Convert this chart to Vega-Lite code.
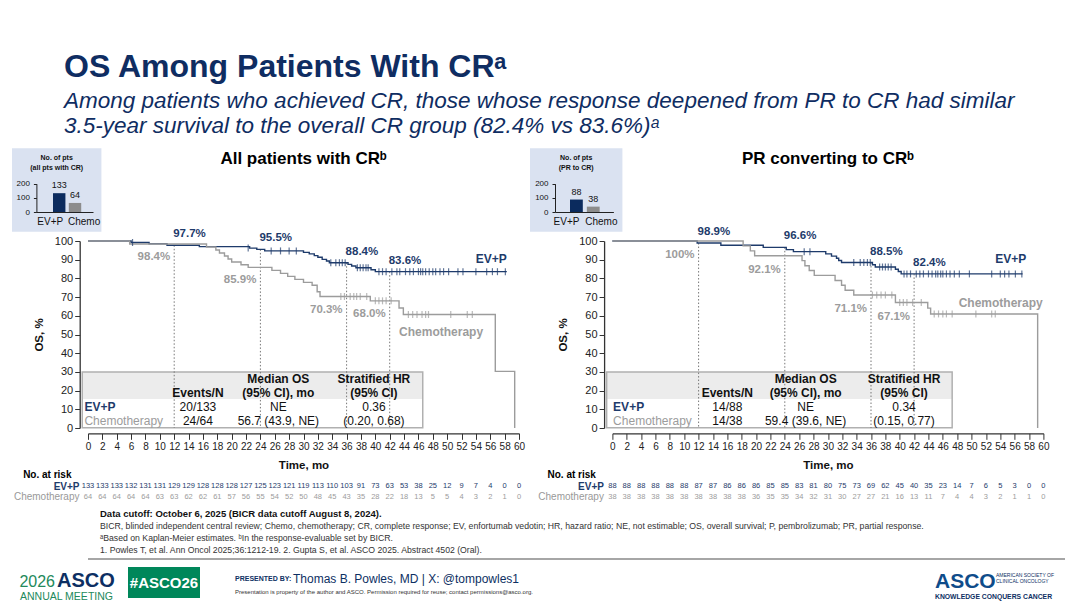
{
  "$schema": "https://vega.github.io/schema/vega-lite/v6.json",
  "background": "#ffffff",
  "padding": {"left": 12, "top": 50, "right": 10, "bottom": 0},
  "config": {
    "font": "Liberation Sans",
    "view": {"stroke": null},
    "axis": {"grid": false, "labelFont": "Liberation Sans", "titleFont": "Liberation Sans"},
    "text": {"font": "Liberation Sans"},
    "title": {"font": "Liberation Sans", "subtitleFont": "Liberation Sans"}
  },
  "title": {
    "text": "OS Among Patients With CRᵃ",
    "subtitle": ["Among patients who achieved CR, those whose response deepened from PR to CR had similar", "3.5-year survival to the overall CR group (82.4% vs 83.6%)ᵃ"],
    "anchor": "start", "frame": "bounds", "dx": 52,
    "fontSize": 32, "fontWeight": "bold", "color": "#0f2d62",
    "subtitleFontSize": 22.5, "subtitleFontStyle": "italic", "subtitleColor": "#0f2d62",
    "subtitlePadding": 6, "subtitleLineHeight": 25, "offset": 10
  },
  "datasets": {
    "km_all": [
      {"arm": "EV+P", "t": 0, "s": 100}, {"arm": "EV+P", "t": 6, "s": 99.2}, {"arm": "EV+P", "t": 8.5, "s": 98.5}, {"arm": "EV+P", "t": 11, "s": 97.7},
      {"arm": "EV+P", "t": 15.5, "s": 97}, {"arm": "EV+P", "t": 22.5, "s": 96.2}, {"arm": "EV+P", "t": 23.5, "s": 95.5}, {"arm": "EV+P", "t": 24.6, "s": 94.7},
      {"arm": "EV+P", "t": 30, "s": 93.9}, {"arm": "EV+P", "t": 30.8, "s": 93.1}, {"arm": "EV+P", "t": 31.5, "s": 92.2}, {"arm": "EV+P", "t": 32, "s": 91.3},
      {"arm": "EV+P", "t": 32.6, "s": 90.2}, {"arm": "EV+P", "t": 33.2, "s": 89.3}, {"arm": "EV+P", "t": 33.6, "s": 88.4}, {"arm": "EV+P", "t": 36.2, "s": 87.5},
      {"arm": "EV+P", "t": 36.7, "s": 86.6}, {"arm": "EV+P", "t": 37.3, "s": 85.7}, {"arm": "EV+P", "t": 39.4, "s": 84.6}, {"arm": "EV+P", "t": 40, "s": 83.6},
      {"arm": "EV+P", "t": 58.3, "s": 83.6},
      {"arm": "Chemotherapy", "t": 0, "s": 100}, {"arm": "Chemotherapy", "t": 5.8, "s": 98.4}, {"arm": "Chemotherapy", "t": 16.5, "s": 96.8}, {"arm": "Chemotherapy", "t": 17.8, "s": 95.2},
      {"arm": "Chemotherapy", "t": 18.3, "s": 93.6}, {"arm": "Chemotherapy", "t": 19, "s": 92}, {"arm": "Chemotherapy", "t": 19.5, "s": 90.4}, {"arm": "Chemotherapy", "t": 20, "s": 88.8},
      {"arm": "Chemotherapy", "t": 21.3, "s": 87.3}, {"arm": "Chemotherapy", "t": 22.3, "s": 85.9}, {"arm": "Chemotherapy", "t": 25.6, "s": 84.3}, {"arm": "Chemotherapy", "t": 26.8, "s": 82.7},
      {"arm": "Chemotherapy", "t": 27.8, "s": 81.1}, {"arm": "Chemotherapy", "t": 28.8, "s": 79.5}, {"arm": "Chemotherapy", "t": 30, "s": 77.9}, {"arm": "Chemotherapy", "t": 31.2, "s": 76.3},
      {"arm": "Chemotherapy", "t": 31.9, "s": 72.9}, {"arm": "Chemotherapy", "t": 32.3, "s": 70.3}, {"arm": "Chemotherapy", "t": 39.3, "s": 68}, {"arm": "Chemotherapy", "t": 43.3, "s": 64.2},
      {"arm": "Chemotherapy", "t": 43.9, "s": 60.7}, {"arm": "Chemotherapy", "t": 56.7, "s": 30.3}, {"arm": "Chemotherapy", "t": 59.4, "s": 0}
    ],
    "km_pr": [
      {"arm": "EV+P", "t": 0, "s": 100}, {"arm": "EV+P", "t": 11.8, "s": 98.9}, {"arm": "EV+P", "t": 15.1, "s": 97.7}, {"arm": "EV+P", "t": 21, "s": 96.6},
      {"arm": "EV+P", "t": 24.2, "s": 95.4}, {"arm": "EV+P", "t": 25.2, "s": 94.3}, {"arm": "EV+P", "t": 29.7, "s": 93.1}, {"arm": "EV+P", "t": 30.5, "s": 91.9},
      {"arm": "EV+P", "t": 31.2, "s": 90.8}, {"arm": "EV+P", "t": 31.5, "s": 89.6}, {"arm": "EV+P", "t": 31.9, "s": 88.5}, {"arm": "EV+P", "t": 36.2, "s": 87.3},
      {"arm": "EV+P", "t": 36.6, "s": 86.1}, {"arm": "EV+P", "t": 39.4, "s": 84.9}, {"arm": "EV+P", "t": 39.8, "s": 83.7}, {"arm": "EV+P", "t": 40.2, "s": 82.4},
      {"arm": "EV+P", "t": 57.1, "s": 82.4},
      {"arm": "Chemotherapy", "t": 0, "s": 100}, {"arm": "Chemotherapy", "t": 18.2, "s": 97.4}, {"arm": "Chemotherapy", "t": 19.2, "s": 94.7}, {"arm": "Chemotherapy", "t": 19.8, "s": 92.1},
      {"arm": "Chemotherapy", "t": 26.4, "s": 89.5}, {"arm": "Chemotherapy", "t": 26.8, "s": 86.8}, {"arm": "Chemotherapy", "t": 27.4, "s": 84.2}, {"arm": "Chemotherapy", "t": 28.1, "s": 81.6},
      {"arm": "Chemotherapy", "t": 31, "s": 78.9}, {"arm": "Chemotherapy", "t": 31.9, "s": 76.3}, {"arm": "Chemotherapy", "t": 32.4, "s": 73.7}, {"arm": "Chemotherapy", "t": 33.6, "s": 71.1},
      {"arm": "Chemotherapy", "t": 39.4, "s": 67.1}, {"arm": "Chemotherapy", "t": 43.9, "s": 64.1}, {"arm": "Chemotherapy", "t": 44.3, "s": 61}, {"arm": "Chemotherapy", "t": 59.2, "s": 0}
    ],
    "cens_all": [
      {"arm": "EV+P", "t": 6.2, "s": 99.2}, {"arm": "EV+P", "t": 22.3, "s": 96.2}, {"arm": "EV+P", "t": 25.5, "s": 94.7}, {"arm": "EV+P", "t": 26.8, "s": 94.7}, {"arm": "EV+P", "t": 28, "s": 94.7}, {"arm": "EV+P", "t": 29, "s": 94.7},
      {"arm": "EV+P", "t": 33.8, "s": 88.4}, {"arm": "EV+P", "t": 34.5, "s": 88.4}, {"arm": "EV+P", "t": 35, "s": 88.4}, {"arm": "EV+P", "t": 35.4, "s": 88.4}, {"arm": "EV+P", "t": 35.8, "s": 88.4},
      {"arm": "EV+P", "t": 37.5, "s": 85.7}, {"arm": "EV+P", "t": 37.9, "s": 85.7}, {"arm": "EV+P", "t": 38.3, "s": 85.7}, {"arm": "EV+P", "t": 38.7, "s": 85.7}, {"arm": "EV+P", "t": 39, "s": 85.7},
      {"arm": "EV+P", "t": 40.5, "s": 83.6}, {"arm": "EV+P", "t": 41, "s": 83.6}, {"arm": "EV+P", "t": 41.5, "s": 83.6}, {"arm": "EV+P", "t": 42.3, "s": 83.6}, {"arm": "EV+P", "t": 43, "s": 83.6},
      {"arm": "EV+P", "t": 43.4, "s": 83.6}, {"arm": "EV+P", "t": 44.2, "s": 83.6}, {"arm": "EV+P", "t": 44.8, "s": 83.6}, {"arm": "EV+P", "t": 45.3, "s": 83.6}, {"arm": "EV+P", "t": 46, "s": 83.6},
      {"arm": "EV+P", "t": 46.3, "s": 83.6}, {"arm": "EV+P", "t": 46.6, "s": 83.6}, {"arm": "EV+P", "t": 47, "s": 83.6}, {"arm": "EV+P", "t": 47.5, "s": 83.6}, {"arm": "EV+P", "t": 48, "s": 83.6},
      {"arm": "EV+P", "t": 48.4, "s": 83.6}, {"arm": "EV+P", "t": 49, "s": 83.6}, {"arm": "EV+P", "t": 49.5, "s": 83.6}, {"arm": "EV+P", "t": 50.2, "s": 83.6}, {"arm": "EV+P", "t": 51.5, "s": 83.6},
      {"arm": "EV+P", "t": 52.2, "s": 83.6}, {"arm": "EV+P", "t": 54, "s": 83.6}, {"arm": "EV+P", "t": 55.5, "s": 83.6}, {"arm": "EV+P", "t": 56.3, "s": 83.6}, {"arm": "EV+P", "t": 57, "s": 83.6},
      {"arm": "EV+P", "t": 58.1, "s": 83.6},
      {"arm": "Chemotherapy", "t": 35.2, "s": 70.3}, {"arm": "Chemotherapy", "t": 35.7, "s": 70.3}, {"arm": "Chemotherapy", "t": 36.5, "s": 70.3}, {"arm": "Chemotherapy", "t": 37, "s": 70.3},
      {"arm": "Chemotherapy", "t": 37.4, "s": 70.3}, {"arm": "Chemotherapy", "t": 37.9, "s": 70.3}, {"arm": "Chemotherapy", "t": 38.8, "s": 70.3},
      {"arm": "Chemotherapy", "t": 40, "s": 68}, {"arm": "Chemotherapy", "t": 40.5, "s": 68}, {"arm": "Chemotherapy", "t": 41, "s": 68}, {"arm": "Chemotherapy", "t": 41.5, "s": 68}, {"arm": "Chemotherapy", "t": 42.2, "s": 68},
      {"arm": "Chemotherapy", "t": 44.6, "s": 60.7}, {"arm": "Chemotherapy", "t": 45.2, "s": 60.7}, {"arm": "Chemotherapy", "t": 45.8, "s": 60.7}, {"arm": "Chemotherapy", "t": 46.5, "s": 60.7},
      {"arm": "Chemotherapy", "t": 47, "s": 60.7}, {"arm": "Chemotherapy", "t": 47.4, "s": 60.7}, {"arm": "Chemotherapy", "t": 50.5, "s": 60.7}, {"arm": "Chemotherapy", "t": 52.8, "s": 60.7}, {"arm": "Chemotherapy", "t": 53.5, "s": 60.7}
    ],
    "cens_pr": [
      {"arm": "EV+P", "t": 26.7, "s": 94.3}, {"arm": "EV+P", "t": 27.5, "s": 94.3},
      {"arm": "EV+P", "t": 33.6, "s": 88.5}, {"arm": "EV+P", "t": 34.5, "s": 88.5}, {"arm": "EV+P", "t": 35, "s": 88.5}, {"arm": "EV+P", "t": 35.5, "s": 88.5}, {"arm": "EV+P", "t": 35.9, "s": 88.5},
      {"arm": "EV+P", "t": 37.2, "s": 86.1}, {"arm": "EV+P", "t": 37.6, "s": 86.1}, {"arm": "EV+P", "t": 38, "s": 86.1}, {"arm": "EV+P", "t": 38.4, "s": 86.1}, {"arm": "EV+P", "t": 38.8, "s": 86.1},
      {"arm": "EV+P", "t": 40.6, "s": 82.4}, {"arm": "EV+P", "t": 41, "s": 82.4}, {"arm": "EV+P", "t": 41.5, "s": 82.4}, {"arm": "EV+P", "t": 42.3, "s": 82.4}, {"arm": "EV+P", "t": 42.8, "s": 82.4},
      {"arm": "EV+P", "t": 43.3, "s": 82.4}, {"arm": "EV+P", "t": 44, "s": 82.4}, {"arm": "EV+P", "t": 44.5, "s": 82.4}, {"arm": "EV+P", "t": 45, "s": 82.4}, {"arm": "EV+P", "t": 45.3, "s": 82.4},
      {"arm": "EV+P", "t": 45.7, "s": 82.4}, {"arm": "EV+P", "t": 46, "s": 82.4}, {"arm": "EV+P", "t": 46.5, "s": 82.4}, {"arm": "EV+P", "t": 47, "s": 82.4}, {"arm": "EV+P", "t": 47.6, "s": 82.4},
      {"arm": "EV+P", "t": 48.3, "s": 82.4}, {"arm": "EV+P", "t": 49.7, "s": 82.4}, {"arm": "EV+P", "t": 52.8, "s": 82.4}, {"arm": "EV+P", "t": 54, "s": 82.4}, {"arm": "EV+P", "t": 54.6, "s": 82.4},
      {"arm": "EV+P", "t": 55.2, "s": 82.4}, {"arm": "EV+P", "t": 56.1, "s": 82.4}, {"arm": "EV+P", "t": 57, "s": 82.4},
      {"arm": "Chemotherapy", "t": 36.2, "s": 71.1}, {"arm": "Chemotherapy", "t": 36.8, "s": 71.1}, {"arm": "Chemotherapy", "t": 37.4, "s": 71.1}, {"arm": "Chemotherapy", "t": 38, "s": 71.1}, {"arm": "Chemotherapy", "t": 38.9, "s": 71.1},
      {"arm": "Chemotherapy", "t": 40, "s": 67.1}, {"arm": "Chemotherapy", "t": 40.5, "s": 67.1}, {"arm": "Chemotherapy", "t": 41, "s": 67.1}, {"arm": "Chemotherapy", "t": 41.8, "s": 67.1}, {"arm": "Chemotherapy", "t": 43, "s": 67.1},
      {"arm": "Chemotherapy", "t": 44.8, "s": 61}, {"arm": "Chemotherapy", "t": 45.4, "s": 61}, {"arm": "Chemotherapy", "t": 46, "s": 61}, {"arm": "Chemotherapy", "t": 46.5, "s": 61},
      {"arm": "Chemotherapy", "t": 47.3, "s": 61}, {"arm": "Chemotherapy", "t": 50.6, "s": 61}, {"arm": "Chemotherapy", "t": 52.8, "s": 61}, {"arm": "Chemotherapy", "t": 53.3, "s": 61}
    ],
    "lab_all": [
      {"arm": "EV+P", "t": 12, "s": 97.7, "lab": "97.7%"}, {"arm": "EV+P", "t": 24, "s": 95.5, "lab": "95.5%"}, {"arm": "EV+P", "t": 36, "s": 88.4, "lab": "88.4%"}, {"arm": "EV+P", "t": 42, "s": 83.6, "lab": "83.6%"},
      {"arm": "Chemotherapy", "t": 12, "s": 98.4, "lab": "98.4%"}, {"arm": "Chemotherapy", "t": 24, "s": 85.9, "lab": "85.9%"}, {"arm": "Chemotherapy", "t": 36, "s": 70.3, "lab": "70.3%"}, {"arm": "Chemotherapy", "t": 42, "s": 68.0, "lab": "68.0%"}
    ],
    "lab_pr": [
      {"arm": "EV+P", "t": 12, "s": 98.9, "lab": "98.9%"}, {"arm": "EV+P", "t": 24, "s": 96.6, "lab": "96.6%"}, {"arm": "EV+P", "t": 36, "s": 88.5, "lab": "88.5%"}, {"arm": "EV+P", "t": 42, "s": 82.4, "lab": "82.4%"},
      {"arm": "Chemotherapy", "t": 12, "s": 100, "lab": "100%"}, {"arm": "Chemotherapy", "t": 24, "s": 92.1, "lab": "92.1%"}, {"arm": "Chemotherapy", "t": 36, "s": 71.1, "lab": "71.1%"}, {"arm": "Chemotherapy", "t": 42, "s": 67.1, "lab": "67.1%"}
    ],
    "tab_all": [
      {"row": "h1", "label": "", "ev": "", "med": "Median OS", "hr": "Stratified HR"},
      {"row": "h2", "label": "", "ev": "Events/N", "med": "(95% CI), mo", "hr": "(95% CI)"},
      {"row": "EV+P", "label": "EV+P", "ev": "20/133", "med": "NE", "hr": "0.36"},
      {"row": "Chemotherapy", "label": "Chemotherapy", "ev": "24/64", "med": "56.7 (43.9, NE)", "hr": "(0.20, 0.68)"}
    ],
    "tab_pr": [
      {"row": "h1", "label": "", "ev": "", "med": "Median OS", "hr": "Stratified HR"},
      {"row": "h2", "label": "", "ev": "Events/N", "med": "(95% CI), mo", "hr": "(95% CI)"},
      {"row": "EV+P", "label": "EV+P", "ev": "14/88", "med": "NE", "hr": "0.34"},
      {"row": "Chemotherapy", "label": "Chemotherapy", "ev": "14/38", "med": "59.4 (39.6, NE)", "hr": "(0.15, 0.77)"}
    ],
    "risk_all": [
      {"arm": "EV+P", "t": 0, "n": 133}, {"arm": "EV+P", "t": 2, "n": 133}, {"arm": "EV+P", "t": 4, "n": 133}, {"arm": "EV+P", "t": 6, "n": 132}, {"arm": "EV+P", "t": 8, "n": 131}, {"arm": "EV+P", "t": 10, "n": 131},
      {"arm": "EV+P", "t": 12, "n": 129}, {"arm": "EV+P", "t": 14, "n": 129}, {"arm": "EV+P", "t": 16, "n": 128}, {"arm": "EV+P", "t": 18, "n": 128}, {"arm": "EV+P", "t": 20, "n": 128}, {"arm": "EV+P", "t": 22, "n": 127},
      {"arm": "EV+P", "t": 24, "n": 125}, {"arm": "EV+P", "t": 26, "n": 123}, {"arm": "EV+P", "t": 28, "n": 121}, {"arm": "EV+P", "t": 30, "n": 119}, {"arm": "EV+P", "t": 32, "n": 113}, {"arm": "EV+P", "t": 34, "n": 110},
      {"arm": "EV+P", "t": 36, "n": 103}, {"arm": "EV+P", "t": 38, "n": 91}, {"arm": "EV+P", "t": 40, "n": 73}, {"arm": "EV+P", "t": 42, "n": 63}, {"arm": "EV+P", "t": 44, "n": 53}, {"arm": "EV+P", "t": 46, "n": 38},
      {"arm": "EV+P", "t": 48, "n": 25}, {"arm": "EV+P", "t": 50, "n": 12}, {"arm": "EV+P", "t": 52, "n": 9}, {"arm": "EV+P", "t": 54, "n": 7}, {"arm": "EV+P", "t": 56, "n": 4}, {"arm": "EV+P", "t": 58, "n": 0}, {"arm": "EV+P", "t": 60, "n": 0},
      {"arm": "Chemotherapy", "t": 0, "n": 64}, {"arm": "Chemotherapy", "t": 2, "n": 64}, {"arm": "Chemotherapy", "t": 4, "n": 64}, {"arm": "Chemotherapy", "t": 6, "n": 64}, {"arm": "Chemotherapy", "t": 8, "n": 64}, {"arm": "Chemotherapy", "t": 10, "n": 63},
      {"arm": "Chemotherapy", "t": 12, "n": 63}, {"arm": "Chemotherapy", "t": 14, "n": 62}, {"arm": "Chemotherapy", "t": 16, "n": 62}, {"arm": "Chemotherapy", "t": 18, "n": 61}, {"arm": "Chemotherapy", "t": 20, "n": 57}, {"arm": "Chemotherapy", "t": 22, "n": 56},
      {"arm": "Chemotherapy", "t": 24, "n": 55}, {"arm": "Chemotherapy", "t": 26, "n": 54}, {"arm": "Chemotherapy", "t": 28, "n": 52}, {"arm": "Chemotherapy", "t": 30, "n": 50}, {"arm": "Chemotherapy", "t": 32, "n": 48}, {"arm": "Chemotherapy", "t": 34, "n": 45},
      {"arm": "Chemotherapy", "t": 36, "n": 43}, {"arm": "Chemotherapy", "t": 38, "n": 35}, {"arm": "Chemotherapy", "t": 40, "n": 28}, {"arm": "Chemotherapy", "t": 42, "n": 22}, {"arm": "Chemotherapy", "t": 44, "n": 18}, {"arm": "Chemotherapy", "t": 46, "n": 13},
      {"arm": "Chemotherapy", "t": 48, "n": 5}, {"arm": "Chemotherapy", "t": 50, "n": 5}, {"arm": "Chemotherapy", "t": 52, "n": 4}, {"arm": "Chemotherapy", "t": 54, "n": 3}, {"arm": "Chemotherapy", "t": 56, "n": 2}, {"arm": "Chemotherapy", "t": 58, "n": 1}, {"arm": "Chemotherapy", "t": 60, "n": 0}
    ],
    "risk_pr": [
      {"arm": "EV+P", "t": 0, "n": 88}, {"arm": "EV+P", "t": 2, "n": 88}, {"arm": "EV+P", "t": 4, "n": 88}, {"arm": "EV+P", "t": 6, "n": 88}, {"arm": "EV+P", "t": 8, "n": 88}, {"arm": "EV+P", "t": 10, "n": 88},
      {"arm": "EV+P", "t": 12, "n": 87}, {"arm": "EV+P", "t": 14, "n": 87}, {"arm": "EV+P", "t": 16, "n": 86}, {"arm": "EV+P", "t": 18, "n": 86}, {"arm": "EV+P", "t": 20, "n": 86}, {"arm": "EV+P", "t": 22, "n": 85},
      {"arm": "EV+P", "t": 24, "n": 85}, {"arm": "EV+P", "t": 26, "n": 83}, {"arm": "EV+P", "t": 28, "n": 81}, {"arm": "EV+P", "t": 30, "n": 80}, {"arm": "EV+P", "t": 32, "n": 75}, {"arm": "EV+P", "t": 34, "n": 73},
      {"arm": "EV+P", "t": 36, "n": 69}, {"arm": "EV+P", "t": 38, "n": 62}, {"arm": "EV+P", "t": 40, "n": 45}, {"arm": "EV+P", "t": 42, "n": 40}, {"arm": "EV+P", "t": 44, "n": 35}, {"arm": "EV+P", "t": 46, "n": 23},
      {"arm": "EV+P", "t": 48, "n": 14}, {"arm": "EV+P", "t": 50, "n": 7}, {"arm": "EV+P", "t": 52, "n": 6}, {"arm": "EV+P", "t": 54, "n": 5}, {"arm": "EV+P", "t": 56, "n": 3}, {"arm": "EV+P", "t": 58, "n": 0}, {"arm": "EV+P", "t": 60, "n": 0},
      {"arm": "Chemotherapy", "t": 0, "n": 38}, {"arm": "Chemotherapy", "t": 2, "n": 38}, {"arm": "Chemotherapy", "t": 4, "n": 38}, {"arm": "Chemotherapy", "t": 6, "n": 38}, {"arm": "Chemotherapy", "t": 8, "n": 38}, {"arm": "Chemotherapy", "t": 10, "n": 38},
      {"arm": "Chemotherapy", "t": 12, "n": 38}, {"arm": "Chemotherapy", "t": 14, "n": 38}, {"arm": "Chemotherapy", "t": 16, "n": 38}, {"arm": "Chemotherapy", "t": 18, "n": 38}, {"arm": "Chemotherapy", "t": 20, "n": 36}, {"arm": "Chemotherapy", "t": 22, "n": 35},
      {"arm": "Chemotherapy", "t": 24, "n": 35}, {"arm": "Chemotherapy", "t": 26, "n": 34}, {"arm": "Chemotherapy", "t": 28, "n": 32}, {"arm": "Chemotherapy", "t": 30, "n": 31}, {"arm": "Chemotherapy", "t": 32, "n": 30}, {"arm": "Chemotherapy", "t": 34, "n": 27},
      {"arm": "Chemotherapy", "t": 36, "n": 27}, {"arm": "Chemotherapy", "t": 38, "n": 21}, {"arm": "Chemotherapy", "t": 40, "n": 16}, {"arm": "Chemotherapy", "t": 42, "n": 13}, {"arm": "Chemotherapy", "t": 44, "n": 11}, {"arm": "Chemotherapy", "t": 46, "n": 7},
      {"arm": "Chemotherapy", "t": 48, "n": 4}, {"arm": "Chemotherapy", "t": 50, "n": 4}, {"arm": "Chemotherapy", "t": 52, "n": 3}, {"arm": "Chemotherapy", "t": 54, "n": 2}, {"arm": "Chemotherapy", "t": 56, "n": 1}, {"arm": "Chemotherapy", "t": 58, "n": 1}, {"arm": "Chemotherapy", "t": 60, "n": 0}
    ]
  },
  "vconcat": [
    {
      "hconcat": [
        {
          "width": 431, "height": 187,
          "title": {"text": "All patients with CRᵇ", "fontSize": 17, "fontWeight": "bold", "color": "#000000", "anchor": "middle", "frame": "group", "offset": -20},
          "layer": [
            {
              "data": {"values": [{"title": "No. of pts\n(all pts with CR)"}]},
              "layer": [
                {"mark": {"type": "rect", "fill": "#dae2f1"},
                 "encoding": {
                   "x": {"datum": "box", "type": "nominal", "scale": {"domain": ["box"], "range": [-76, 13.4], "paddingInner": 0, "paddingOuter": 0}, "axis": null},
                   "y": {"datum": "box", "type": "nominal", "scale": {"domain": ["box"], "range": [-92.7, -9.3], "paddingInner": 0, "paddingOuter": 0}, "axis": null}}},
                {"mark": {"type": "text", "baseline": "top", "dy": 6, "fontSize": 7, "fontWeight": "bold", "lineBreak": "\n", "lineHeight": 10, "color": "#111111"},
                 "encoding": {
                   "x": {"datum": "box", "type": "nominal", "scale": {"domain": ["box"], "range": [-76, 13.4], "paddingInner": 0, "paddingOuter": 0}, "axis": null},
                   "y": {"datum": "box", "type": "nominal", "bandPosition": 0, "scale": {"domain": ["box"], "range": [-92.7, -9.3], "paddingInner": 0, "paddingOuter": 0}, "axis": null},
                   "text": {"field": "title"}}}
              ]
            },
            {
              "data": {"values": [{"arm": "EV+P", "n": 133}, {"arm": "Chemo", "n": 64}]},
              "layer": [
                {"mark": {"type": "bar"},
                 "encoding": {
                   "x": {"field": "arm", "type": "nominal", "sort": null,
                         "scale": {"domain": ["EV+P", "Chemo"], "range": [-51.6, 5], "paddingInner": 0.215, "paddingOuter": 0.9, "align": 0.585},
                         "axis": {"orient": "bottom", "offset": -216, "zindex": 2, "title": null, "ticks": false, "domainColor": "#222222", "labelFontSize": 10, "labelPadding": 4, "labelAngle": 0, "labelColor": "#111111",
                                  "labelAlign": {"condition": {"test": "datum.value == 'EV+P'", "value": "right"}, "value": "left"},
                                  "labelOffset": {"condition": {"test": "datum.value == 'EV+P'", "value": 4}, "value": -7}}},
                   "y": {"field": "n", "type": "quantitative", "scale": {"domain": [0, 200], "range": [-29, -57.3], "nice": false},
                         "axis": {"orient": "left", "offset": 51.6, "zindex": 2, "values": [0, 100, 200], "tickCount": 10, "title": null, "tickSize": 3, "labelFontSize": 8, "labelPadding": 4, "labelColor": "#111111", "domainColor": "#222222", "tickColor": "#222222"}},
                   "color": {"condition": {"test": "datum.arm == 'EV+P'", "value": "#0b2b5e"}, "value": "#8c8c8c"}}},
                {"mark": {"type": "text", "baseline": "bottom", "dy": -3, "fontSize": 9, "color": "#111111"},
                 "encoding": {
                   "x": {"field": "arm", "type": "nominal", "sort": null, "scale": {"domain": ["EV+P", "Chemo"], "range": [-51.6, 5], "paddingInner": 0.215, "paddingOuter": 0.9, "align": 0.585}},
                   "y": {"field": "n", "type": "quantitative", "scale": {"domain": [0, 200], "range": [-29, -57.3], "nice": false}},
                   "text": {"field": "n"}}}
              ]
            },
            {
              "layer": [
                {
                  "layer": [
                    {"data": {"values": [{}]},
                     "mark": {"type": "rect", "fill": "#ffffff"},
                     "encoding": {
                       "x": {"datum": -0.8, "type": "quantitative", "scale": {"domain": [0, 60], "nice": false, "zero": false},
                             "axis": {"orient": "bottom", "values": [0, 2, 4, 6, 8, 10, 12, 14, 16, 18, 20, 22, 24, 26, 28, 30, 32, 34, 36, 38, 40, 42, 44, 46, 48, 50, 52, 54, 56, 58, 60], "tickCount": 61, "offset": 5.3, "title": "Time, mo", "titleFontSize": 11.5, "titleFontWeight": "bold", "titleColor": "#111111", "titlePadding": 8, "labelFontSize": 10, "labelColor": "#222222", "labelPadding": 2, "labelFlush": false, "labelOverlap": false, "tickSize": 6, "tickColor": "#333333", "domainColor": "#333333", "domainWidth": 1.3}},
                       "x2": {"datum": 46.6},
                       "y": {"datum": 30, "type": "quantitative", "scale": {"domain": [0, 100], "nice": false, "zero": false},
                             "axis": {"orient": "left", "values": [0, 10, 20, 30, 40, 50, 60, 70, 80, 90, 100], "tickCount": 21, "offset": 8.3, "title": "OS, %", "titleFontSize": 11.5, "titleFontWeight": "bold", "titleColor": "#111111", "titlePadding": 10, "labelFontSize": 11, "labelColor": "#222222", "labelPadding": 2, "labelOverlap": false, "tickSize": 5, "tickColor": "#333333", "domainColor": "#333333", "domainWidth": 1.3}},
                       "y2": {"datum": 0.2}}},
                    {"data": {"values": [{}]},
                     "mark": {"type": "rect", "fill": "#ececec"},
                     "encoding": {
                       "x": {"datum": -0.8, "type": "quantitative", "scale": {"domain": [0, 60], "nice": false, "zero": false}},
                       "x2": {"datum": 46.6},
                       "y": {"datum": 30, "type": "quantitative", "scale": {"domain": [0, 100], "nice": false, "zero": false}},
                       "y2": {"datum": 15.5}}},
                    {"data": {"values": [{}]},
                     "mark": {"type": "rect", "fillOpacity": 0, "stroke": "#b0b0b0", "strokeWidth": 1.5},
                     "encoding": {
                       "x": {"datum": -0.8, "type": "quantitative", "scale": {"domain": [0, 60], "nice": false, "zero": false}},
                       "x2": {"datum": 46.6},
                       "y": {"datum": 30, "type": "quantitative", "scale": {"domain": [0, 100], "nice": false, "zero": false}},
                       "y2": {"datum": 0.2}}},
                    {"data": {"name": "lab_all"},
                     "transform": [{"filter": "datum.arm == 'EV+P'"}],
                     "mark": {"type": "rule", "color": "#777777", "strokeWidth": 1, "strokeDash": [1.5, 2]},
                     "encoding": {
                       "x": {"field": "t", "type": "quantitative", "scale": {"domain": [0, 60], "nice": false, "zero": false}},
                       "y": {"field": "s", "type": "quantitative", "scale": {"domain": [0, 100], "nice": false, "zero": false}},
                       "y2": {"datum": 0}}},
                    {"data": {"name": "km_all"},
                     "mark": {"type": "line", "interpolate": "step-after", "strokeWidth": 1.4},
                     "encoding": {
                       "x": {"field": "t", "type": "quantitative", "scale": {"domain": [0, 60], "nice": false, "zero": false}},
                       "y": {"field": "s", "type": "quantitative", "scale": {"domain": [0, 100], "nice": false, "zero": false}},
                       "color": {"field": "arm", "type": "nominal", "scale": {"domain": ["EV+P", "Chemotherapy"], "range": ["#1e3b6b", "#9c9c9c"]}, "legend": null}}},
                    {"data": {"name": "cens_all"},
                     "mark": {"type": "tick", "orient": "vertical", "size": 7, "thickness": 1.2},
                     "encoding": {
                       "x": {"field": "t", "type": "quantitative", "scale": {"domain": [0, 60], "nice": false, "zero": false}},
                       "y": {"field": "s", "type": "quantitative", "scale": {"domain": [0, 100], "nice": false, "zero": false}},
                       "color": {"field": "arm", "type": "nominal", "scale": {"domain": ["EV+P", "Chemotherapy"], "range": ["#1e3b6b", "#9c9c9c"]}, "legend": null}}},
                    {"data": {"name": "lab_all"},
                     "transform": [{"filter": "datum.arm == 'EV+P'"}],
                     "mark": {"type": "text", "align": "left", "baseline": "middle", "dx": -1, "dy": -11, "fontSize": 11.5, "fontWeight": "bold"},
                     "encoding": {
                       "x": {"field": "t", "type": "quantitative", "scale": {"domain": [0, 60], "nice": false, "zero": false}},
                       "y": {"field": "s", "type": "quantitative", "scale": {"domain": [0, 100], "nice": false, "zero": false}},
                       "text": {"field": "lab"},
                       "color": {"field": "arm", "type": "nominal", "scale": {"domain": ["EV+P", "Chemotherapy"], "range": ["#1e3b6b", "#9c9c9c"]}, "legend": null}}},
                    {"data": {"name": "lab_all"},
                     "transform": [{"filter": "datum.arm == 'Chemotherapy'"}],
                     "mark": {"type": "text", "align": "right", "baseline": "middle", "dx": -4, "dy": 13, "fontSize": 11.5, "fontWeight": "bold"},
                     "encoding": {
                       "x": {"field": "t", "type": "quantitative", "scale": {"domain": [0, 60], "nice": false, "zero": false}},
                       "y": {"field": "s", "type": "quantitative", "scale": {"domain": [0, 100], "nice": false, "zero": false}},
                       "text": {"field": "lab"},
                       "color": {"field": "arm", "type": "nominal", "scale": {"domain": ["EV+P", "Chemotherapy"], "range": ["#1e3b6b", "#9c9c9c"]}, "legend": null}}},
                    {"data": {"values": [{}]},
                     "mark": {"type": "text", "text": "EV+P", "align": "right", "baseline": "middle", "fontSize": 12, "fontWeight": "bold", "color": "#1e3b6b"},
                     "encoding": {
                       "x": {"datum": 58.3, "type": "quantitative", "scale": {"domain": [0, 60], "nice": false, "zero": false}},
                       "y": {"datum": 90.2, "type": "quantitative", "scale": {"domain": [0, 100], "nice": false, "zero": false}}}},
                    {"data": {"values": [{}]},
                     "mark": {"type": "text", "text": "Chemotherapy", "align": "left", "baseline": "middle", "fontSize": 12, "fontWeight": "bold", "color": "#9c9c9c"},
                     "encoding": {
                       "x": {"datum": 43.3, "type": "quantitative", "scale": {"domain": [0, 60], "nice": false, "zero": false}},
                       "y": {"datum": 51.4, "type": "quantitative", "scale": {"domain": [0, 100], "nice": false, "zero": false}}}}
                  ]
                },
                {
                  "data": {"name": "tab_all"},
                  "encoding": {
                    "y": {"field": "row", "type": "nominal", "scale": {"domain": ["h1", "h2", "EV+P", "Chemotherapy"], "range": [131, 187], "paddingInner": 0, "paddingOuter": 0}, "axis": null}
                  },
                  "layer": [
                    {"mark": {"type": "text", "align": "left", "baseline": "middle", "fontSize": 12, "fontWeight": {"expr": "datum.row == 'EV+P' ? 'bold' : 'normal'"}},
                     "encoding": {
                       "x": {"datum": -0.5, "type": "quantitative", "scale": {"domain": [0, 60], "nice": false, "zero": false}},
                       "text": {"field": "label"},
                       "color": {"field": "row", "type": "nominal", "scale": {"domain": ["EV+P", "Chemotherapy"], "range": ["#1e3b6b", "#9c9c9c"]}, "legend": null}}},
                    {"mark": {"type": "text", "align": "center", "baseline": "middle", "fontSize": 12, "color": "#111111", "fontWeight": {"expr": "datum.row == 'h1' || datum.row == 'h2' ? 'bold' : 'normal'"}},
                     "encoding": {
                       "x": {"datum": 15.3, "type": "quantitative", "scale": {"domain": [0, 60], "nice": false, "zero": false}},
                       "text": {"field": "ev"}}},
                    {"mark": {"type": "text", "align": "center", "baseline": "middle", "fontSize": 12, "color": "#111111", "fontWeight": {"expr": "datum.row == 'h1' || datum.row == 'h2' ? 'bold' : 'normal'"}},
                     "encoding": {
                       "x": {"datum": 26.5, "type": "quantitative", "scale": {"domain": [0, 60], "nice": false, "zero": false}},
                       "text": {"field": "med"}}},
                    {"mark": {"type": "text", "align": "center", "baseline": "middle", "fontSize": 12, "color": "#111111", "fontWeight": {"expr": "datum.row == 'h1' || datum.row == 'h2' ? 'bold' : 'normal'"}},
                     "encoding": {
                       "x": {"datum": 39.8, "type": "quantitative", "scale": {"domain": [0, 60], "nice": false, "zero": false}},
                       "text": {"field": "hr"}}}
                  ]
                },
                {
                  "data": {"name": "risk_all"},
                  "mark": {"type": "text", "baseline": "middle", "fontSize": 7.5},
                  "encoding": {
                    "x": {"field": "t", "type": "quantitative", "scale": {"domain": [0, 60], "nice": false, "zero": false}},
                    "y": {"field": "arm", "type": "nominal", "scale": {"domain": ["No. at risk", "EV+P", "Chemotherapy"], "range": [229.25, 260.75], "paddingInner": 0, "paddingOuter": 0},
                          "axis": {"orient": "left", "offset": 0, "title": null, "domain": false, "ticks": false, "labelFontSize": 10,
                                   "labelPadding": {"condition": {"test": "datum.value == 'No. at risk'", "value": 17}, "value": 9},
                                   "labelOffset": {"condition": {"test": "datum.value == 'No. at risk'", "value": -1.5}, "value": 0},
                                   "labelFontWeight": {"condition": {"test": "datum.value == 'Chemotherapy'", "value": "normal"}, "value": "bold"},
                                   "labelColor": {"condition": [{"test": "datum.value == 'EV+P'", "value": "#1e3b6b"}, {"test": "datum.value == 'Chemotherapy'", "value": "#999999"}], "value": "#000000"}}},
                    "text": {"field": "n"},
                    "color": {"field": "arm", "type": "nominal", "scale": {"domain": ["EV+P", "Chemotherapy"], "range": ["#1e3b6b", "#9c9c9c"]}, "legend": null}}
                }
              ],
              "resolve": {"scale": {"y": "independent"}, "axis": {"y": "independent"}}
            }
          ],
          "resolve": {"scale": {"x": "independent", "y": "independent"}, "axis": {"x": "independent", "y": "independent"}}
        },
        {
          "width": 431, "height": 187,
          "title": {"text": "PR converting to CRᵇ", "fontSize": 17, "fontWeight": "bold", "color": "#000000", "anchor": "middle", "frame": "group", "offset": -20},
          "layer": [
            {
              "data": {"values": [{"title": "No. of pts\n(PR to CR)"}]},
              "layer": [
                {"mark": {"type": "rect", "fill": "#dae2f1"},
                 "encoding": {
                   "x": {"datum": "box", "type": "nominal", "scale": {"domain": ["box"], "range": [-82.4, 10], "paddingInner": 0, "paddingOuter": 0}, "axis": null},
                   "y": {"datum": "box", "type": "nominal", "scale": {"domain": ["box"], "range": [-92.7, -9.3], "paddingInner": 0, "paddingOuter": 0}, "axis": null}}},
                {"mark": {"type": "text", "baseline": "top", "dy": 6, "fontSize": 7, "fontWeight": "bold", "lineBreak": "\n", "lineHeight": 10, "color": "#111111"},
                 "encoding": {
                   "x": {"datum": "box", "type": "nominal", "scale": {"domain": ["box"], "range": [-82.4, 10], "paddingInner": 0, "paddingOuter": 0}, "axis": null},
                   "y": {"datum": "box", "type": "nominal", "bandPosition": 0, "scale": {"domain": ["box"], "range": [-92.7, -9.3], "paddingInner": 0, "paddingOuter": 0}, "axis": null},
                   "text": {"field": "title"}}}
              ]
            },
            {
              "data": {"values": [{"arm": "EV+P", "n": 88}, {"arm": "Chemo", "n": 38}]},
              "layer": [
                {"mark": {"type": "bar"},
                 "encoding": {
                   "x": {"field": "arm", "type": "nominal", "sort": null,
                         "scale": {"domain": ["EV+P", "Chemo"], "range": [-57.4, 1], "paddingInner": 0.24, "paddingOuter": 0.853, "align": 0.522},
                         "axis": {"orient": "bottom", "offset": -216, "zindex": 2, "title": null, "ticks": false, "domainColor": "#222222", "labelFontSize": 10, "labelPadding": 4, "labelAngle": 0, "labelColor": "#111111",
                                  "labelAlign": {"condition": {"test": "datum.value == 'EV+P'", "value": "right"}, "value": "left"},
                                  "labelOffset": {"condition": {"test": "datum.value == 'EV+P'", "value": 3}, "value": -8}}},
                   "y": {"field": "n", "type": "quantitative", "scale": {"domain": [0, 200], "range": [-29, -57.3], "nice": false},
                         "axis": {"orient": "left", "offset": 57.4, "zindex": 2, "values": [0, 100, 200], "tickCount": 10, "title": null, "tickSize": 3, "labelFontSize": 8, "labelPadding": 4, "labelColor": "#111111", "domainColor": "#222222", "tickColor": "#222222"}},
                   "color": {"condition": {"test": "datum.arm == 'EV+P'", "value": "#0b2b5e"}, "value": "#8c8c8c"}}},
                {"mark": {"type": "text", "baseline": "bottom", "dy": -3, "fontSize": 9, "color": "#111111"},
                 "encoding": {
                   "x": {"field": "arm", "type": "nominal", "sort": null, "scale": {"domain": ["EV+P", "Chemo"], "range": [-57.4, 1], "paddingInner": 0.24, "paddingOuter": 0.853, "align": 0.522}},
                   "y": {"field": "n", "type": "quantitative", "scale": {"domain": [0, 200], "range": [-29, -57.3], "nice": false}},
                   "text": {"field": "n"}}}
              ]
            },
            {
              "layer": [
                {
                  "layer": [
                    {"data": {"values": [{}]},
                     "mark": {"type": "rect", "fill": "#ffffff"},
                     "encoding": {
                       "x": {"datum": -0.8, "type": "quantitative", "scale": {"domain": [0, 60], "nice": false, "zero": false},
                             "axis": {"orient": "bottom", "values": [0, 2, 4, 6, 8, 10, 12, 14, 16, 18, 20, 22, 24, 26, 28, 30, 32, 34, 36, 38, 40, 42, 44, 46, 48, 50, 52, 54, 56, 58, 60], "tickCount": 61, "offset": 5.3, "title": "Time, mo", "titleFontSize": 11.5, "titleFontWeight": "bold", "titleColor": "#111111", "titlePadding": 8, "labelFontSize": 10, "labelColor": "#222222", "labelPadding": 2, "labelFlush": false, "labelOverlap": false, "tickSize": 6, "tickColor": "#333333", "domainColor": "#333333", "domainWidth": 1.3}},
                       "x2": {"datum": 47.3},
                       "y": {"datum": 30, "type": "quantitative", "scale": {"domain": [0, 100], "nice": false, "zero": false},
                             "axis": {"orient": "left", "values": [0, 10, 20, 30, 40, 50, 60, 70, 80, 90, 100], "tickCount": 21, "offset": 8.3, "title": "OS, %", "titleFontSize": 11.5, "titleFontWeight": "bold", "titleColor": "#111111", "titlePadding": 10, "labelFontSize": 11, "labelColor": "#222222", "labelPadding": 2, "labelOverlap": false, "tickSize": 5, "tickColor": "#333333", "domainColor": "#333333", "domainWidth": 1.3}},
                       "y2": {"datum": 0.2}}},
                    {"data": {"values": [{}]},
                     "mark": {"type": "rect", "fill": "#ececec"},
                     "encoding": {
                       "x": {"datum": -0.8, "type": "quantitative", "scale": {"domain": [0, 60], "nice": false, "zero": false}},
                       "x2": {"datum": 47.3},
                       "y": {"datum": 30, "type": "quantitative", "scale": {"domain": [0, 100], "nice": false, "zero": false}},
                       "y2": {"datum": 15.5}}},
                    {"data": {"values": [{}]},
                     "mark": {"type": "rect", "fillOpacity": 0, "stroke": "#b0b0b0", "strokeWidth": 1.5},
                     "encoding": {
                       "x": {"datum": -0.8, "type": "quantitative", "scale": {"domain": [0, 60], "nice": false, "zero": false}},
                       "x2": {"datum": 47.3},
                       "y": {"datum": 30, "type": "quantitative", "scale": {"domain": [0, 100], "nice": false, "zero": false}},
                       "y2": {"datum": 0.2}}},
                    {"data": {"name": "lab_pr"},
                     "transform": [{"filter": "datum.arm == 'EV+P'"}],
                     "mark": {"type": "rule", "color": "#777777", "strokeWidth": 1, "strokeDash": [1.5, 2]},
                     "encoding": {
                       "x": {"field": "t", "type": "quantitative", "scale": {"domain": [0, 60], "nice": false, "zero": false}},
                       "y": {"field": "s", "type": "quantitative", "scale": {"domain": [0, 100], "nice": false, "zero": false}},
                       "y2": {"datum": 0}}},
                    {"data": {"name": "km_pr"},
                     "mark": {"type": "line", "interpolate": "step-after", "strokeWidth": 1.4},
                     "encoding": {
                       "x": {"field": "t", "type": "quantitative", "scale": {"domain": [0, 60], "nice": false, "zero": false}},
                       "y": {"field": "s", "type": "quantitative", "scale": {"domain": [0, 100], "nice": false, "zero": false}},
                       "color": {"field": "arm", "type": "nominal", "scale": {"domain": ["EV+P", "Chemotherapy"], "range": ["#1e3b6b", "#9c9c9c"]}, "legend": null}}},
                    {"data": {"name": "cens_pr"},
                     "mark": {"type": "tick", "orient": "vertical", "size": 7, "thickness": 1.2},
                     "encoding": {
                       "x": {"field": "t", "type": "quantitative", "scale": {"domain": [0, 60], "nice": false, "zero": false}},
                       "y": {"field": "s", "type": "quantitative", "scale": {"domain": [0, 100], "nice": false, "zero": false}},
                       "color": {"field": "arm", "type": "nominal", "scale": {"domain": ["EV+P", "Chemotherapy"], "range": ["#1e3b6b", "#9c9c9c"]}, "legend": null}}},
                    {"data": {"name": "lab_pr"},
                     "transform": [{"filter": "datum.arm == 'EV+P'"}],
                     "mark": {"type": "text", "align": "left", "baseline": "middle", "dx": -1, "dy": -11, "fontSize": 11.5, "fontWeight": "bold"},
                     "encoding": {
                       "x": {"field": "t", "type": "quantitative", "scale": {"domain": [0, 60], "nice": false, "zero": false}},
                       "y": {"field": "s", "type": "quantitative", "scale": {"domain": [0, 100], "nice": false, "zero": false}},
                       "text": {"field": "lab"},
                       "color": {"field": "arm", "type": "nominal", "scale": {"domain": ["EV+P", "Chemotherapy"], "range": ["#1e3b6b", "#9c9c9c"]}, "legend": null}}},
                    {"data": {"name": "lab_pr"},
                     "transform": [{"filter": "datum.arm == 'Chemotherapy'"}],
                     "mark": {"type": "text", "align": "right", "baseline": "middle", "dx": -4, "dy": 14, "fontSize": 11.5, "fontWeight": "bold"},
                     "encoding": {
                       "x": {"field": "t", "type": "quantitative", "scale": {"domain": [0, 60], "nice": false, "zero": false}},
                       "y": {"field": "s", "type": "quantitative", "scale": {"domain": [0, 100], "nice": false, "zero": false}},
                       "text": {"field": "lab"},
                       "color": {"field": "arm", "type": "nominal", "scale": {"domain": ["EV+P", "Chemotherapy"], "range": ["#1e3b6b", "#9c9c9c"]}, "legend": null}}},
                    {"data": {"values": [{}]},
                     "mark": {"type": "text", "text": "EV+P", "align": "right", "baseline": "middle", "fontSize": 12, "fontWeight": "bold", "color": "#1e3b6b"},
                     "encoding": {
                       "x": {"datum": 57.6, "type": "quantitative", "scale": {"domain": [0, 60], "nice": false, "zero": false}},
                       "y": {"datum": 90.3, "type": "quantitative", "scale": {"domain": [0, 100], "nice": false, "zero": false}}}},
                    {"data": {"values": [{}]},
                     "mark": {"type": "text", "text": "Chemotherapy", "align": "right", "baseline": "middle", "fontSize": 12, "fontWeight": "bold", "color": "#9c9c9c"},
                     "encoding": {
                       "x": {"datum": 59.9, "type": "quantitative", "scale": {"domain": [0, 60], "nice": false, "zero": false}},
                       "y": {"datum": 66.9, "type": "quantitative", "scale": {"domain": [0, 100], "nice": false, "zero": false}}}}
                  ]
                },
                {
                  "data": {"name": "tab_pr"},
                  "encoding": {
                    "y": {"field": "row", "type": "nominal", "scale": {"domain": ["h1", "h2", "EV+P", "Chemotherapy"], "range": [131, 187], "paddingInner": 0, "paddingOuter": 0}, "axis": null}
                  },
                  "layer": [
                    {"mark": {"type": "text", "align": "left", "baseline": "middle", "fontSize": 12, "fontWeight": {"expr": "datum.row == 'EV+P' ? 'bold' : 'normal'"}},
                     "encoding": {
                       "x": {"datum": 0.1, "type": "quantitative", "scale": {"domain": [0, 60], "nice": false, "zero": false}},
                       "text": {"field": "label"},
                       "color": {"field": "row", "type": "nominal", "scale": {"domain": ["EV+P", "Chemotherapy"], "range": ["#1e3b6b", "#9c9c9c"]}, "legend": null}}},
                    {"mark": {"type": "text", "align": "center", "baseline": "middle", "fontSize": 12, "color": "#111111", "fontWeight": {"expr": "datum.row == 'h1' || datum.row == 'h2' ? 'bold' : 'normal'"}},
                     "encoding": {
                       "x": {"datum": 16.0, "type": "quantitative", "scale": {"domain": [0, 60], "nice": false, "zero": false}},
                       "text": {"field": "ev"}}},
                    {"mark": {"type": "text", "align": "center", "baseline": "middle", "fontSize": 12, "color": "#111111", "fontWeight": {"expr": "datum.row == 'h1' || datum.row == 'h2' ? 'bold' : 'normal'"}},
                     "encoding": {
                       "x": {"datum": 26.9, "type": "quantitative", "scale": {"domain": [0, 60], "nice": false, "zero": false}},
                       "text": {"field": "med"}}},
                    {"mark": {"type": "text", "align": "center", "baseline": "middle", "fontSize": 12, "color": "#111111", "fontWeight": {"expr": "datum.row == 'h1' || datum.row == 'h2' ? 'bold' : 'normal'"}},
                     "encoding": {
                       "x": {"datum": 40.6, "type": "quantitative", "scale": {"domain": [0, 60], "nice": false, "zero": false}},
                       "text": {"field": "hr"}}}
                  ]
                },
                {
                  "data": {"name": "risk_pr"},
                  "mark": {"type": "text", "baseline": "middle", "fontSize": 7.5},
                  "encoding": {
                    "x": {"field": "t", "type": "quantitative", "scale": {"domain": [0, 60], "nice": false, "zero": false}},
                    "y": {"field": "arm", "type": "nominal", "scale": {"domain": ["No. at risk", "EV+P", "Chemotherapy"], "range": [229.25, 260.75], "paddingInner": 0, "paddingOuter": 0},
                          "axis": {"orient": "left", "offset": 0, "title": null, "domain": false, "ticks": false, "labelFontSize": 10,
                                   "labelPadding": {"condition": {"test": "datum.value == 'No. at risk'", "value": 17}, "value": 9},
                                   "labelOffset": {"condition": {"test": "datum.value == 'No. at risk'", "value": -1.5}, "value": 0},
                                   "labelFontWeight": {"condition": {"test": "datum.value == 'Chemotherapy'", "value": "normal"}, "value": "bold"},
                                   "labelColor": {"condition": [{"test": "datum.value == 'EV+P'", "value": "#1e3b6b"}, {"test": "datum.value == 'Chemotherapy'", "value": "#999999"}], "value": "#000000"}}},
                    "text": {"field": "n"},
                    "color": {"field": "arm", "type": "nominal", "scale": {"domain": ["EV+P", "Chemotherapy"], "range": ["#1e3b6b", "#9c9c9c"]}, "legend": null}}
                }
              ],
              "resolve": {"scale": {"y": "independent"}, "axis": {"y": "independent"}}
            }
          ],
          "resolve": {"scale": {"x": "independent", "y": "independent"}, "axis": {"x": "independent", "y": "independent"}}
        }
      ],
      "spacing": 4.4
    },
    {
      "width": 977, "height": 4,
      "title": {
        "text": "Data cutoff: October 6, 2025 (BICR data cutoff August 8, 2024).",
        "subtitle": [
          "BICR, blinded independent central review; Chemo, chemotherapy; CR, complete response; EV, enfortumab vedotin; HR, hazard ratio; NE, not estimable; OS, overall survival; P, pembrolizumab; PR, partial response.",
          "ᵃBased on Kaplan-Meier estimates. ᵇIn the response-evaluable set by BICR.",
          "1. Powles T, et al. Ann Oncol 2025;36:1212-19. 2. Gupta S, et al. ASCO 2025. Abstract 4502 (Oral)."
        ],
        "anchor": "start", "frame": "group", "dx": 12,
        "fontSize": 9.5, "fontWeight": "bold", "color": "#111111",
        "subtitleFontSize": 8.7, "subtitleColor": "#333333", "subtitleLineHeight": 12, "subtitlePadding": 4, "offset": 2
      },
      "data": {"values": [{"y": 0.5}]},
      "mark": {"type": "rule", "color": "#a6a6a6", "strokeWidth": 2},
      "encoding": {
        "y": {"field": "y", "type": "quantitative", "scale": {"domain": [0, 1]}, "axis": null}
      }
    },
    {
      "hconcat": [
        {
          "width": 40, "height": 31,
          "data": {"values": [{"a": "2026", "b": "ASCO", "c": "ANNUAL MEETING"}]},
          "layer": [
            {"mark": {"type": "text", "align": "right", "baseline": "alphabetic", "dx": -53, "dy": 4.5, "fontSize": 16, "color": "#23895b"}, "encoding": {"text": {"field": "a"}}},
            {"mark": {"type": "text", "align": "left", "baseline": "alphabetic", "dx": -51, "dy": 4.5, "fontSize": 20, "fontWeight": "bold", "color": "#0d2f63"}, "encoding": {"text": {"field": "b"}}},
            {"mark": {"type": "text", "align": "left", "baseline": "alphabetic", "dx": -88, "dy": 17.5, "fontSize": 10.5, "color": "#23895b"}, "encoding": {"text": {"field": "c"}}}
          ]
        },
        {
          "width": 72, "height": 31,
          "view": {"fill": "#00875a", "stroke": null},
          "data": {"values": [{"h": "#ASCO26"}]},
          "mark": {"type": "text", "fontSize": 15, "fontWeight": "bold", "color": "#ffffff", "baseline": "middle"},
          "encoding": {"text": {"field": "h"}}
        },
        {
          "width": 735, "height": 31,
          "data": {"values": [{"p": "PRESENTED BY:", "n": "Thomas B. Powles, MD | X: @tompowles1", "s": "Presentation is property of the author and ASCO. Permission required for reuse; contact permissions@asco.org."}]},
          "layer": [
            {"mark": {"type": "text", "align": "left", "baseline": "alphabetic", "dx": -332.5, "dy": -1.5, "fontSize": 7, "fontWeight": "bold", "color": "#0d2f63"}, "encoding": {"text": {"field": "p"}}},
            {"mark": {"type": "text", "align": "left", "baseline": "alphabetic", "dx": -274.5, "dy": 0.5, "fontSize": 12, "color": "#0d2f63"}, "encoding": {"text": {"field": "n"}}},
            {"mark": {"type": "text", "align": "left", "baseline": "alphabetic", "dx": -332.5, "dy": 11.5, "fontSize": 6, "color": "#333333"}, "encoding": {"text": {"field": "s"}}}
          ]
        },
        {
          "width": 127, "height": 31,
          "data": {"values": [{"a": "ASCO", "b": "AMERICAN SOCIETY OF\nCLINICAL ONCOLOGY", "c": "KNOWLEDGE CONQUERS CANCER"}]},
          "layer": [
            {"mark": {"type": "text", "align": "left", "baseline": "alphabetic", "dx": -63.5, "dy": 5.5, "fontSize": 21, "fontWeight": "bold", "color": "#0f4c8a"}, "encoding": {"text": {"field": "a"}}},
            {"mark": {"type": "text", "align": "left", "baseline": "alphabetic", "dx": -2.5, "dy": -5.5, "fontSize": 5, "lineBreak": "\n", "lineHeight": 6, "color": "#0d2f63"}, "encoding": {"text": {"field": "b"}}},
            {"mark": {"type": "text", "align": "left", "baseline": "alphabetic", "dx": -63.5, "dy": 16.5, "fontSize": 6.8, "fontWeight": "bold", "color": "#0d2f63"}, "encoding": {"text": {"field": "c"}}}
          ]
        }
      ],
      "spacing": 0,
      "bounds": "flush"
    }
  ],
  "spacing": 6
}
